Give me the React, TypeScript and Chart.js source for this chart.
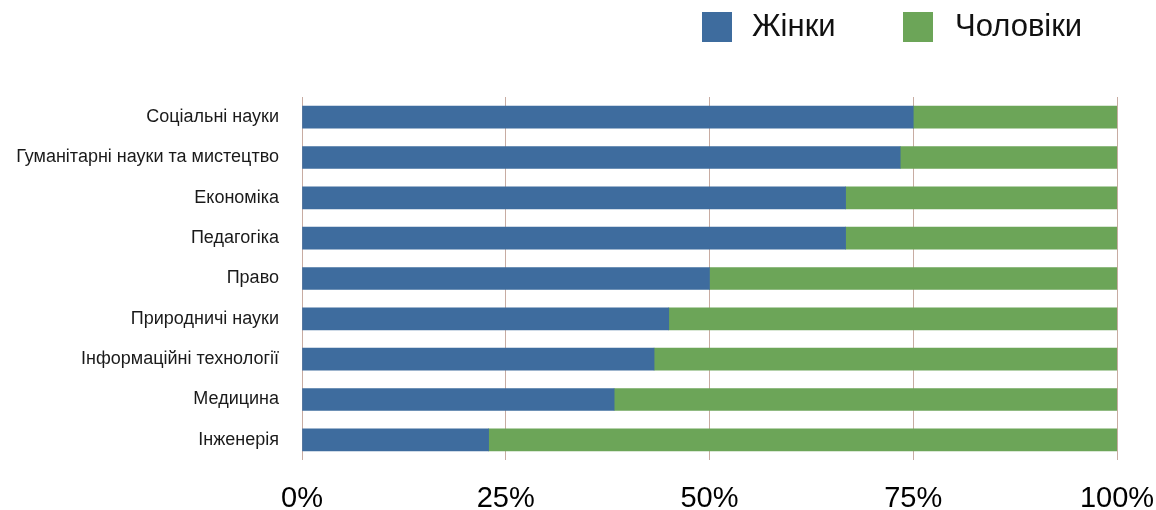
import React, { useEffect, useRef } from "react";
import { Chart, registerables } from "chart.js";

Chart.register(...registerables);

const categories = [
  "Соціальні науки",
  "Гуманітарні науки та мистецтво",
  "Економіка",
  "Педагогіка",
  "Право",
  "Природничі науки",
  "Інформаційні технології",
  "Медицина",
  "Інженерія",
];
const seriesNames = ["Жінки", "Чоловіки"];
const women = [75, 73.4, 66.7, 66.7, 50, 45, 43.2, 38.3, 22.9];
const men = [25, 26.6, 33.3, 33.3, 50, 55, 56.8, 61.7, 77.1];
const xTickValues = [0, 25, 50, 75, 100];
const colors = ["#3e6c9e", "#6ca558"];

const FONT = '"Liberation Sans", Arial, Helvetica, sans-serif';

const topLegend = {
  id: "topLegend",
  afterDraw(chart: any) {
    const ctx = chart.ctx;
    const spots = [
      [702, 752],
      [903, 955],
    ];
    ctx.save();
    ctx.font = `31px ${FONT}`;
    ctx.textBaseline = "middle";
    ctx.textAlign = "left";
    chart.data.datasets.forEach((ds: any, i: number) => {
      ctx.fillStyle = ds.backgroundColor;
      ctx.fillRect(spots[i][0], 12, 30, 30);
      ctx.fillStyle = "#111111";
      ctx.fillText(ds.label, spots[i][1], 27);
    });
    ctx.restore();
  },
};

export default function App() {
  const ref = useRef<HTMLCanvasElement | null>(null);

  useEffect(() => {
    if (!ref.current) return;
    const chart = new Chart(ref.current, {
      type: "bar",
      data: {
        labels: categories,
        datasets: [
          { label: seriesNames[0], data: women, backgroundColor: colors[0], borderWidth: 0 },
          { label: seriesNames[1], data: men, backgroundColor: colors[1], borderWidth: 0 },
        ],
      },
      plugins: [topLegend],
      options: {
        indexAxis: "y",
        animation: false,
        responsive: false,
        maintainAspectRatio: false,
        layout: { padding: { top: 97, right: 39, bottom: 0, left: 0 } },
        datasets: {
          bar: { barThickness: 22 },
        },
        plugins: {
          legend: { display: false },
          tooltip: { enabled: false },
        },
        scales: {
          x: {
            stacked: true,
            min: 0,
            max: 100,
            afterBuildTicks(scale: any) {
              scale.ticks = xTickValues.map((v) => ({ value: v }));
            },
            afterFit(scale: any) {
              scale.height = 50;
              scale.paddingLeft = 0;
              scale.paddingRight = 39;
            },
            grid: {
              color: "rgb(200,172,162)",
              lineWidth: 1,
              drawTicks: false,
            },
            border: { display: false },
            ticks: {
              padding: 22,
              color: "#000000",
              font: { family: FONT, size: 29 },
              callback: (v: any) => `${v}%`,
            },
          },
          y: {
            stacked: true,
            afterFit(scale: any) {
              scale.width = 302;
            },
            grid: { display: false, drawTicks: false },
            border: { display: false },
            ticks: {
              padding: 23,
              color: "#1a1a1a",
              font: { family: FONT, size: 18 },
            },
          },
        },
      },
    } as any);
    return () => chart.destroy();
  }, []);

  return (
    <div style={{ position: "fixed", left: 0, top: 0, width: 1156, height: 510, background: "#fff" }}>
      <canvas ref={ref} width={1156} height={510} style={{ width: 1156, height: 510, display: "block" }} />
    </div>
  );
}
